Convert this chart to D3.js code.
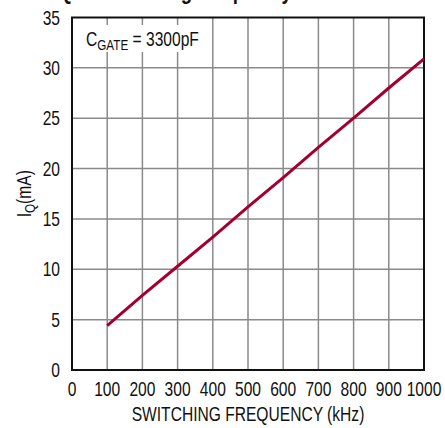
<!DOCTYPE html>
<html>
<head>
<meta charset="utf-8">
<script src="https://cdn.jsdelivr.net/npm/d3@7"></script>
<style>
  body { margin: 0; background: #fff; }
  svg { display: block; }
  text { font-family: "Liberation Sans", Arial, sans-serif; fill: #111; }
</style>
</head>
<body>
<div></div>
<script>
const width = 445
const height = 428

// values
const freq = [100, 200, 300, 400, 500, 600, 700, 800, 900, 1000]
const iq = [4.4, 7.4, 10.3, 13.2, 16.2, 19.1, 22.1, 25.0, 28.0, 30.9]
const xTicks = [0, 100, 200, 300, 400, 500, 600, 700, 800, 900, 1000]
const yTicks = [0, 5, 10, 15, 20, 25, 30, 35]

const margin = { left: 72, right: 21, top: 17.5, bottom: 58 }
const squeeze = 0.78   // narrow look of the original font
const fs = '20px'

let svg = d3.select('div').append('svg')
    .attr('width', width)
    .attr('height', height)

const x = d3.scaleLinear().domain([0, 1000]).range([margin.left, width - margin.right])
const y = d3.scaleLinear().domain([0, 35]).range([height - margin.bottom, margin.top])

const at = (px, py) => 'translate(' + px + ',' + py + ') scale(' + squeeze + ',1)'

// title, mostly cut off at the top
svg.append('text')
    .attr('transform', at(292, -1))
    .attr('text-anchor', 'end')
    .style('font-weight', 'bold')
    .style('font-size', '24px')
    .text('IQ vs Switching Frequency')

// grid
svg.append('g')
    .selectAll('line')
    .data(xTicks.slice(1, -1))
    .enter()
    .append('line')
    .attr('x1', d => x(d)).attr('x2', d => x(d))
    .attr('y1', y(0)).attr('y2', y(35))
    .style('stroke', '#8a8a8a')
    .style('stroke-width', 1.5)

svg.append('g')
    .selectAll('line')
    .data(yTicks.slice(1, -1))
    .enter()
    .append('line')
    .attr('x1', x(0)).attr('x2', x(1000))
    .attr('y1', d => y(d)).attr('y2', d => y(d))
    .style('stroke', '#8a8a8a')
    .style('stroke-width', 1.5)

// label box
svg.append('rect')
    .attr('x', x(0) + 3)
    .attr('y', 25)
    .attr('width', 136)
    .attr('height', 27)
    .style('fill', '#fff')

let lab = svg.append('text')
    .attr('transform', at(86, 46))
    .style('font-size', fs)
lab.append('tspan').text('C')
lab.append('tspan').attr('dy', 4).style('font-size', '15px').text('GATE')
lab.append('tspan').attr('dy', -4).text(' = 3300pF')

// frame
svg.append('rect')
    .attr('x', x(0))
    .attr('y', y(35))
    .attr('width', x(1000) - x(0))
    .attr('height', y(0) - y(35))
    .style('fill', 'none')
    .style('stroke', '#111')
    .style('stroke-width', 2)

// data line
const line = d3.line().x((d, i) => x(freq[i])).y(d => y(d))
svg.append('path')
    .datum(iq)
    .attr('d', line)
    .style('fill', 'none')
    .style('stroke', '#a3002f')
    .style('stroke-width', 3)

// tick labels
svg.append('g')
    .selectAll('text')
    .data(xTicks)
    .enter()
    .append('text')
    .attr('transform', d => at(x(d), y(0) + 26))
    .attr('text-anchor', 'middle')
    .style('font-size', fs)
    .text(d => d)

svg.append('g')
    .selectAll('text')
    .data(yTicks)
    .enter()
    .append('text')
    .attr('transform', d => at(x(0) - 12, y(d)))
    .attr('dy', '0.36em')
    .attr('text-anchor', 'end')
    .style('font-size', fs)
    .text(d => d)

// axis titles
svg.append('text')
    .attr('transform', at((x(0) + x(1000)) / 2, 421))
    .attr('text-anchor', 'middle')
    .style('font-size', fs)
    .text('SWITCHING FREQUENCY (kHz)')

let yt = svg.append('text')
    .attr('transform', 'translate(31,' + ((y(0) + y(35)) / 2) + ') rotate(-90) scale(' + squeeze + ',1)')
    .attr('text-anchor', 'middle')
    .style('font-size', fs)
yt.append('tspan').text('I')
yt.append('tspan').attr('dy', 4).style('font-size', '15px').text('Q')
yt.append('tspan').attr('dy', -4).text('(mA)')
</script>
</body>
</html>
